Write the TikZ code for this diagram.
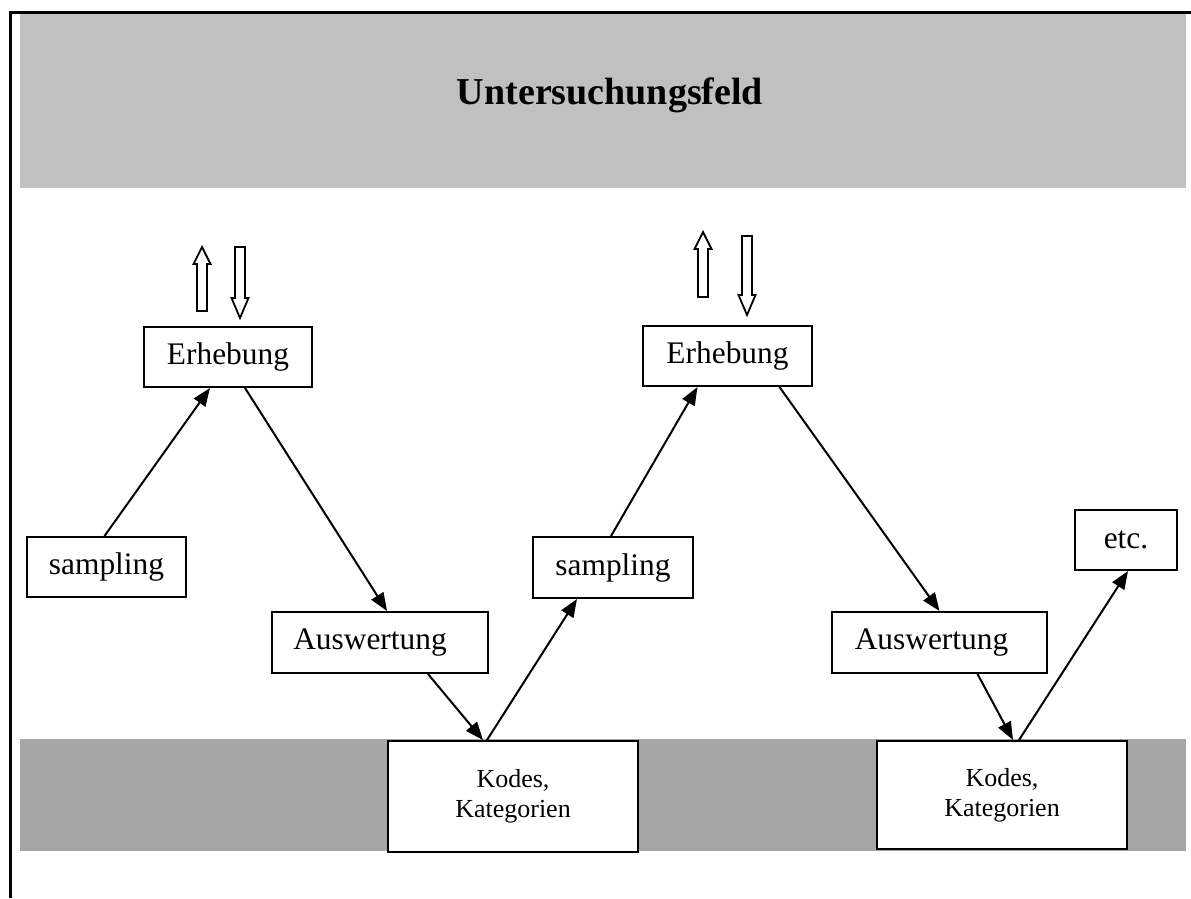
\documentclass[tikz,border=0pt]{standalone}
\usepackage{fontspec}
\setmainfont{Liberation Serif}
\usetikzlibrary{arrows.meta}
\definecolor{bandtop}{HTML}{C0C0C0}
\definecolor{bandbottom}{HTML}{A6A6A6}
\begin{document}
\begin{tikzpicture}[x=1pt,y=-1pt,
  box/.style={draw,line width=2pt,fill=white,inner sep=0pt,
    font=\fontsize{31.4}{36}\selectfont},
  codebox/.style={box,align=center,font=\fontsize{26}{30}\selectfont},
  flow/.style={line width=2pt,-{Triangle[length=18pt,width=14pt]}},
  hollow/.style={draw,line width=1.8pt,fill=white,line join=miter}]
\useasboundingbox (0,0) rectangle (1191,898);

% bands
\fill[bandtop] (20,13) rectangle (1186,188);
\fill[bandbottom] (20,739) rectangle (1186,851);

% frame
\draw[line width=3pt] (10.5,898) -- (10.5,12) -- (1191,12);

% title
\node[font=\fontsize{38}{44}\selectfont\bfseries] (title) at (610,95) {Untersuchungsfeld};

% boxes
\node[box,minimum width=168,minimum height=60] (e1) at (228,357) {Erhebung};
\node[box,minimum width=159,minimum height=60] (s1) at (106.5,567) {sampling};
\node[box,minimum width=216,minimum height=61] (a1) at (380,642.5) {Auswertung\kern20pt};
\node[codebox,minimum width=250,minimum height=111] (k1) at (513,796.5) {Kodes,\\Kategorien};
\node[box,minimum width=160,minimum height=61] (s2) at (613,567.5) {sampling};
\node[box,minimum width=169,minimum height=60] (e2) at (727.5,356) {Erhebung};
\node[box,minimum width=215,minimum height=61] (a2) at (939.5,642.5) {Auswertung\kern16pt};
\node[codebox,minimum width=250,minimum height=108] (k2) at (1002,795) {Kodes,\\Kategorien};
\node[box,minimum width=102,minimum height=60] (etc) at (1126,540) {etc.};

% flow arrows
\draw[flow] ([xshift=-2pt]s1.north) -- ([xshift=-18pt]e1.south);
\draw[flow] ([xshift=17pt]e1.south) -- ([xshift=7pt]a1.north);
\draw[flow] ([xshift=48pt]a1.south) -- ([xshift=-30pt]k1.north);
\draw[flow] ([xshift=-26pt]k1.north) -- ([xshift=-36pt]s2.south);
\draw[flow] ([xshift=-2pt]s2.north) -- ([xshift=-30pt]e2.south);
\draw[flow] ([xshift=52pt]e2.south) -- ([xshift=0pt]a2.north);
\draw[flow] ([xshift=38pt]a2.south) -- ([xshift=11pt]k2.north);
\draw[flow] ([xshift=17pt]k2.north) -- ([xshift=2pt]etc.south);

% hollow arrows above the first Erhebung
\draw[hollow] (197,311) -- (197,264) -- (193.5,264) -- (202,247) -- (210.5,264) -- (207,264) -- (207,311) -- cycle;
\draw[hollow] (235,247) -- (235,298) -- (231.5,298) -- (240,318) -- (248.5,298) -- (245,298) -- (245,247) -- cycle;
% hollow arrows above the second Erhebung
\draw[hollow] (698,297) -- (698,249) -- (694.5,249) -- (703,232) -- (711.5,249) -- (708,249) -- (708,297) -- cycle;
\draw[hollow] (742,236) -- (742,295) -- (738.5,295) -- (747,315) -- (755.5,295) -- (752,295) -- (752,236) -- cycle;
\end{tikzpicture}
\end{document}
